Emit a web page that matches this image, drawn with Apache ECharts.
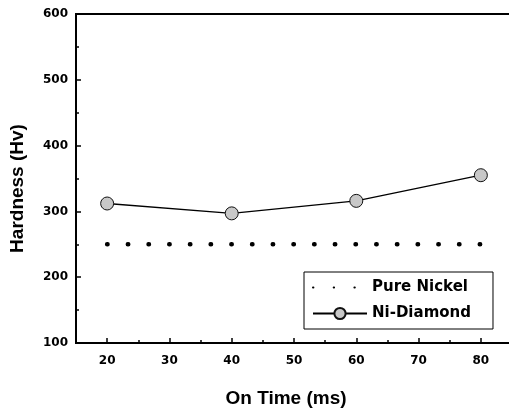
<!DOCTYPE html>
<html>
<head>
<meta charset="utf-8">
<script src="https://cdn.jsdelivr.net/npm/echarts@6/dist/echarts.min.js"></script>
<style>html,body{margin:0;padding:0;background:#fff}#c{width:509px;height:411px}</style>
</head>
<body>
<div id="c"></div>
<script>
// Data
var onTime = [20, 40, 60, 80];
var niDiamond = [312, 297, 316, 355];
var pureNickelX = [20, 80];
var pureNickel = [250, 250];
var xMajorTicks = [20, 30, 40, 50, 60, 70, 80];
var xMinorTicks = [15, 25, 35, 45, 55, 65, 75, 85];
var yTicks = [100, 200, 300, 400, 500, 600];

var chart = echarts.init(document.getElementById('c'), null, {renderer: 'canvas'});
var labelFont = {fontFamily: 'DejaVu Sans', fontWeight: 'bold', fontSize: 12, color: '#000'};
var titleFont = {fontFamily: 'Liberation Sans', fontWeight: 'bold', fontSize: 19, color: '#000'};

chart.setOption({
  animation: false,
  backgroundColor: '#fff',
  grid: {left: 76, top: 14, width: 436, height: 329, outerBoundsMode: 'none', containLabel: false,
         show: true, borderColor: '#000', borderWidth: 2, backgroundColor: 'transparent'},
  legend: {
    orient: 'vertical', left: 304, top: 272,
    padding: [8, 22, 8, 8], itemWidth: 54, itemHeight: 14, itemGap: 11,
    borderColor: '#000', borderWidth: 1, borderRadius: 0, backgroundColor: '#fff',
    textStyle: {fontFamily: 'DejaVu Sans', fontWeight: 'bold', fontSize: 15, color: '#000'},
    data: [
      {name: 'Pure Nickel', itemStyle: {opacity: 0}},
      {name: 'Ni-Diamond'}
    ]
  },
  xAxis: [{
    type: 'value', min: 15, max: 85,
    name: 'On Time (ms)', nameLocation: 'middle', nameGap: 46,
    nameTextStyle: Object.assign({padding: [0, 16, 0, 0]}, titleFont),
    axisLine: {lineStyle: {color: '#000', width: 2}},
    axisTick: {inside: true, length: 5, lineStyle: {color: '#000', width: 1.5}, customValues: xMajorTicks},
    axisLabel: Object.assign({margin: 12, customValues: xMajorTicks}, labelFont),
    splitLine: {show: false}
  }, {
    type: 'value', min: 15, max: 85, position: 'bottom',
    axisLine: {show: false},
    axisTick: {inside: true, length: 3, lineStyle: {color: '#000', width: 1.5}, customValues: xMinorTicks},
    axisLabel: {show: false},
    splitLine: {show: false}
  }],
  yAxis: {
    type: 'value', min: 100, max: 600, interval: 100,
    name: 'Hardness (Hv)', nameLocation: 'middle', nameGap: 49, nameRotate: 90,
    nameTextStyle: Object.assign({padding: [0, 20, 0, 0]}, titleFont),
    axisLine: {show: true, lineStyle: {color: '#000', width: 2}},
    axisTick: {show: true, inside: true, length: 5, lineStyle: {color: '#000', width: 1.5}},
    minorTick: {show: true, splitNumber: 2, length: 3, lineStyle: {color: '#000', width: 1.5}},
    axisLabel: Object.assign({margin: 8, customValues: yTicks}, labelFont),
    splitLine: {show: false}
  },
  series: [{
    name: 'Pure Nickel', type: 'line',
    data: pureNickelX.map(function (x, i) { return [x, pureNickel[i]]; }),
    symbol: 'none',
    lineStyle: {color: '#000', width: 4.5, type: [0.4, 20.3], cap: 'round'},
    itemStyle: {color: '#000'}
  }, {
    name: 'Ni-Diamond', type: 'line',
    data: onTime.map(function (x, i) { return [x, niDiamond[i]]; }),
    symbol: 'circle', symbolSize: 13,
    lineStyle: {color: '#000', width: 1.3},
    itemStyle: {color: '#c8c8c8', borderColor: '#111', borderWidth: 1}
  }]
});
</script>
</body>
</html>
